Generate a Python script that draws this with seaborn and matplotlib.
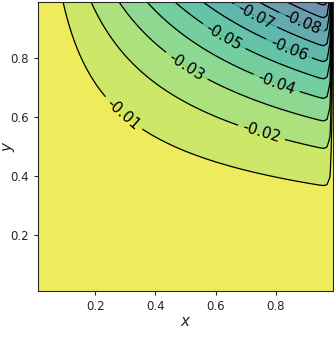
import numpy as np
import matplotlib
matplotlib.use("Agg")
import matplotlib.pyplot as plt
import seaborn as sns

# field parameters
amp = 0.11           # value scale
y_power = 2.35       # y exponent
edge_width = 0.006   # drop to zero at the right edge
x_lo, x_hi = 0.01, 0.99
n_grid = 99

# contour levels
plain_levels = [-0.12, -0.11, -0.10, -0.09]
label_levels = [-0.08, -0.07, -0.06, -0.05, -0.04, -0.03, -0.02, -0.01]
fill_levels = [-0.14, -0.13] + plain_levels + label_levels + [0.0]
x_ticks = [0.2, 0.4, 0.6, 0.8]
y_ticks = [0.2, 0.4, 0.6, 0.8]

# where the inline labels sit
label_spots = [(0.882, 0.91), (0.727, 0.933), (0.843, 0.83), (0.627, 0.871),
               (0.81, 0.735), (0.503, 0.772), (0.753, 0.55), (0.283, 0.60)]

sns.set_style("ticks")
plt.rcParams['font.family'] = ['DejaVu Sans']

xs = np.linspace(x_lo, x_hi, n_grid)
ys = np.linspace(x_lo, x_hi, n_grid)
X, Y = np.meshgrid(xs, ys)
Z = -amp * X * Y**y_power * (1 - np.exp(-(x_hi - X) / edge_width))

fig = plt.figure(figsize=(3.34, 3.40), dpi=100)
ax = fig.add_axes([0.114, 0.144, 0.883, 0.85])

cmap = sns.color_palette("viridis", as_cmap=True)
ax.contourf(X, Y, Z, levels=fill_levels, cmap=cmap, alpha=0.7)
ax.contour(X, Y, Z, levels=plain_levels, colors='black', linewidths=0.9,
           linestyles='solid')
cs = ax.contour(X, Y, Z, levels=label_levels, colors='black', linewidths=0.9,
                linestyles='solid')
ax.clabel(cs, fmt='%.2f', fontsize=11, inline=True, manual=label_spots)

ax.set_xlim(x_lo, x_hi)
ax.set_ylim(x_lo, x_hi)
ax.set_xticks(x_ticks)
ax.set_yticks(y_ticks)
ax.tick_params(labelsize=8.5, length=3)
ax.set_xlabel('$x$', fontsize=11, labelpad=1)
ax.set_ylabel('$y$', fontsize=11)
ax.yaxis.set_label_coords(-0.07, 0.5)

fig.savefig('out.png', dpi=100)
